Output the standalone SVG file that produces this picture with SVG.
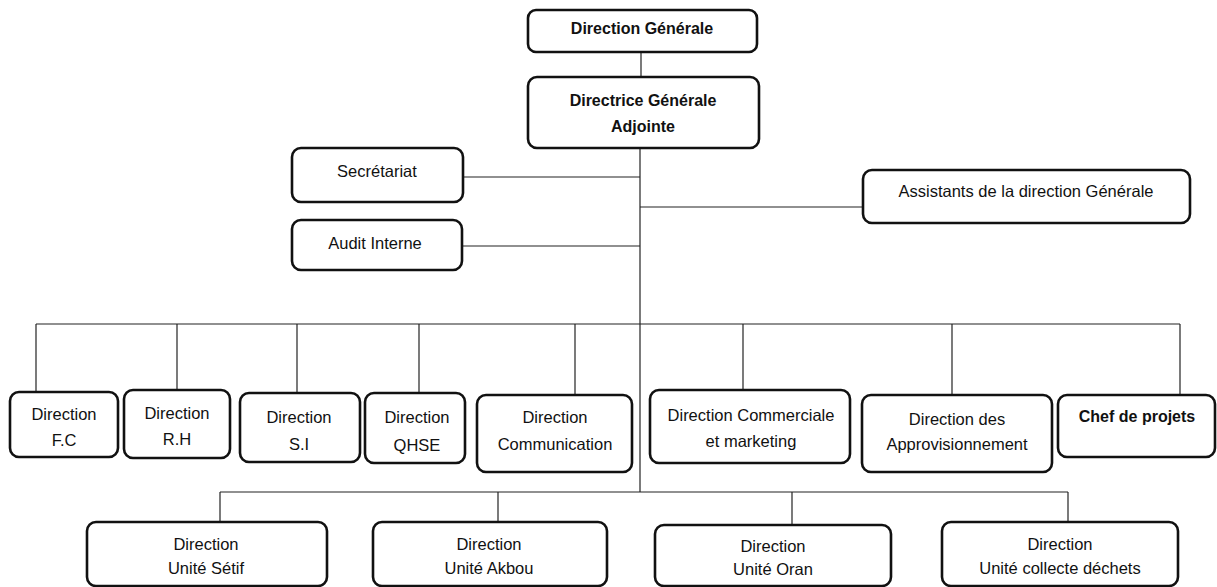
<svg xmlns="http://www.w3.org/2000/svg" width="1217" height="587" viewBox="0 0 1217 587">
<style>
.box{fill:#fff;stroke:#111;stroke-width:2.6}
.t{font-family:"Liberation Sans",Arial,sans-serif;font-size:16.5px;fill:#111;text-anchor:middle}
.b{font-weight:bold;font-size:16px}
.c{stroke:#222;stroke-width:1.2;fill:none}
</style>
<rect width="1217" height="587" fill="#fff"/>
<g id="connectors">
<line class="c" x1="641" y1="52" x2="641" y2="77"/>
<line class="c" x1="640" y1="148" x2="640" y2="492"/>
<line class="c" x1="463" y1="177" x2="640" y2="177"/>
<line class="c" x1="462" y1="246" x2="640" y2="246"/>
<line class="c" x1="640" y1="207" x2="863" y2="207"/>
<line class="c" x1="36" y1="324" x2="1180" y2="324"/>
<line class="c" x1="36" y1="324" x2="36" y2="392"/>
<line class="c" x1="177" y1="324" x2="177" y2="390"/>
<line class="c" x1="297" y1="324" x2="297" y2="393"/>
<line class="c" x1="419" y1="324" x2="419" y2="393"/>
<line class="c" x1="575" y1="324" x2="575" y2="395"/>
<line class="c" x1="743" y1="324" x2="743" y2="390"/>
<line class="c" x1="952" y1="324" x2="952" y2="395"/>
<line class="c" x1="1180" y1="324" x2="1180" y2="395"/>
<line class="c" x1="220" y1="492" x2="1068" y2="492"/>
<line class="c" x1="220" y1="492" x2="220" y2="522"/>
<line class="c" x1="498" y1="492" x2="498" y2="522"/>
<line class="c" x1="792" y1="492" x2="792" y2="525"/>
<line class="c" x1="1068" y1="492" x2="1068" y2="522"/>
</g>
<g id="n-dg"><rect class="box" x="528" y="10" width="229" height="42" rx="8"/><text class="t b" x="642" y="34">Direction Générale</text></g>
<g id="n-dga"><rect class="box" x="528" y="77" width="231" height="71" rx="9"/><text class="t b" x="643" y="106">Directrice Générale</text><text class="t b" x="643" y="132">Adjointe</text></g>
<g id="n-sec"><rect class="box" x="292" y="148" width="171" height="54" rx="9"/><text class="t" x="377" y="177">Secrétariat</text></g>
<g id="n-audit"><rect class="box" x="292" y="220" width="170" height="50" rx="9"/><text class="t" x="375" y="249">Audit Interne</text></g>
<g id="n-assist"><rect class="box" x="863" y="170" width="327" height="53" rx="9"/><text class="t" x="1026" y="197">Assistants de la direction Générale</text></g>
<g id="n-fc"><rect class="box" x="10" y="392" width="108" height="65" rx="9"/><text class="t" x="64" y="420">Direction</text><text class="t" x="64" y="446">F.C</text></g>
<g id="n-rh"><rect class="box" x="124" y="390" width="106" height="68" rx="9"/><text class="t" x="177" y="419">Direction</text><text class="t" x="177" y="445">R.H</text></g>
<g id="n-si"><rect class="box" x="240" y="393" width="120" height="69" rx="9"/><text class="t" x="299" y="423">Direction</text><text class="t" x="299" y="450">S.I</text></g>
<g id="n-qhse"><rect class="box" x="365" y="393" width="100" height="70" rx="9"/><text class="t" x="417" y="423">Direction</text><text class="t" x="417" y="451">QHSE</text></g>
<g id="n-comm"><rect class="box" x="477" y="395" width="155" height="77" rx="9"/><text class="t" x="555" y="423">Direction</text><text class="t" x="555" y="450">Communication</text></g>
<g id="n-cm"><rect class="box" x="650" y="390" width="200" height="73" rx="9"/><text class="t" x="751" y="421">Direction Commerciale</text><text class="t" x="751" y="447">et marketing</text></g>
<g id="n-appro"><rect class="box" x="862" y="395" width="190" height="77" rx="9"/><text class="t" x="957" y="425">Direction des</text><text class="t" x="957" y="450">Approvisionnement</text></g>
<g id="n-chef"><rect class="box" x="1058" y="395" width="157" height="62" rx="9"/><text class="t b" x="1137" y="422">Chef de projets</text></g>
<g id="n-setif"><rect class="box" x="87" y="522" width="240" height="64" rx="9"/><text class="t" x="206" y="550">Direction</text><text class="t" x="206" y="574">Unité Sétif</text></g>
<g id="n-akbou"><rect class="box" x="373" y="522" width="234" height="64" rx="9"/><text class="t" x="489" y="550">Direction</text><text class="t" x="489" y="574">Unité Akbou</text></g>
<g id="n-oran"><rect class="box" x="655" y="525" width="236" height="61" rx="9"/><text class="t" x="773" y="552">Direction</text><text class="t" x="773" y="575">Unité Oran</text></g>
<g id="n-collecte"><rect class="box" x="942" y="522" width="236" height="64" rx="9"/><text class="t" x="1060" y="550">Direction</text><text class="t" x="1060" y="574">Unité collecte déchets</text></g>
</svg>
